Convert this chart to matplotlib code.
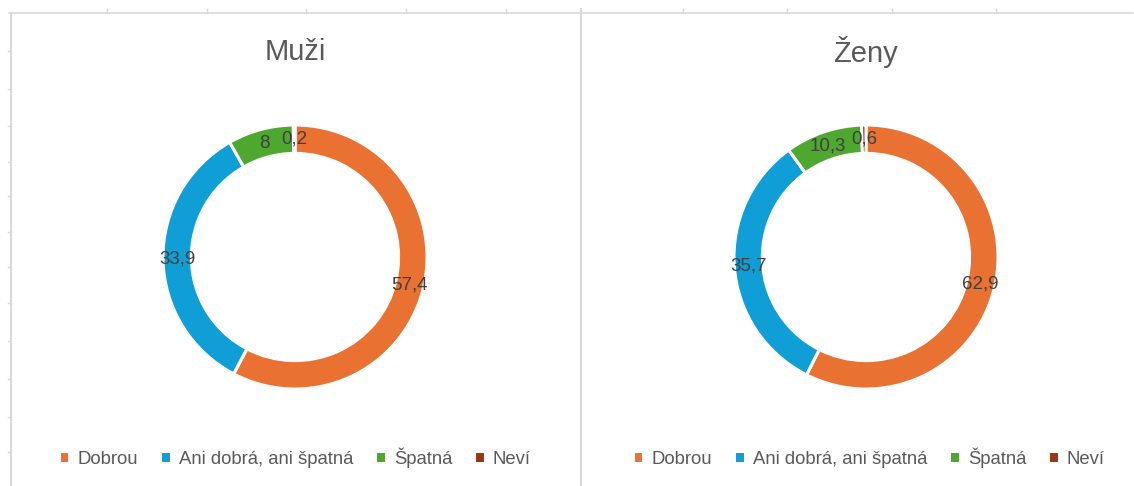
import matplotlib
matplotlib.use("Agg")
import matplotlib.pyplot as plt
from matplotlib.lines import Line2D
from matplotlib.patches import Patch
import numpy as np

plt.rcParams['font.family'] = ['Liberation Sans', 'DejaVu Sans']

categories = ["Dobrou", "Ani dobrá, ani špatná", "Špatná", "Neví"]
men_values = [57.4, 33.9, 8.0, 0.2]
women_values = [62.9, 35.7, 10.3, 0.6]
men_labels = ["57,4", "33,9", "8", "0,2"]
women_labels = ["62,9", "35,7", "10,3", "0,6"]
titles = ["Muži", "Ženy"]
colors = ["#E97132", "#0F9ED5", "#4EA72E", "#9A3A12"]

W, H = 1134, 486
fig = plt.figure(figsize=(W / 100, H / 100), dpi=100)
fig.patch.set_facecolor("white")

def fx(x):
    return x / W

def fy(y):
    return 1 - y / H

grid_c = "#D9D9D9"
# spreadsheet-like frame lines
fig.add_artist(Line2D([fx(9), fx(1133)], [fy(13.5), fy(13.5)], color=grid_c, lw=1.2))
fig.add_artist(Line2D([fx(11), fx(11)], [fy(13), fy(486)], color=grid_c, lw=1.5))
fig.add_artist(Line2D([fx(581), fx(581)], [fy(9), fy(486)], color=grid_c, lw=1.5))
for x in [107, 207, 306, 406, 506, 683, 787, 892, 996]:
    fig.add_artist(Line2D([fx(x), fx(x)], [fy(9), fy(13.5)], color=grid_c, lw=1))
for y in [51, 89, 126, 162, 196, 232, 267, 303, 341, 379, 417, 452]:
    fig.add_artist(Line2D([fx(8), fx(11)], [fy(y), fy(y)], color=grid_c, lw=1))

R = 132
centers = [(295, 257), (866, 257)]
datasets = [(men_values, men_labels), (women_values, women_labels)]
legend_cx = [296, 870]

for i, ((cx, cy), (vals, labs)) in enumerate(zip(centers, datasets)):
    ax = fig.add_axes([fx(cx - R), fy(cy + R), 2 * R / W, 2 * R / H])
    ax.set_aspect("equal")
    wedges, _ = ax.pie(vals, colors=colors, startangle=90, counterclock=False,
                       radius=1.0, wedgeprops=dict(width=0.215, edgecolor="white", linewidth=2.2))
    total = sum(vals)
    cum = 0
    for v, lab in zip(vals, labs):
        mid = cum + v / 2
        ang = np.deg2rad(90 - mid / total * 360)
        r = 1 - 0.215 / 2
        ax.text(r * np.cos(ang), r * np.sin(ang), lab, ha="center", va="center",
                fontsize=13.5, color="#404040")
        cum += v
    ax.set_xlim(-1, 1)
    ax.set_ylim(-1, 1)
    ax.axis("off")

    fig.text(fx(cx), fy(52), titles[i], ha="center", va="center", fontsize=21,
             color="#595959")

    handles = [Patch(facecolor=c, edgecolor="none") for c in colors]
    fig.legend(handles, categories, loc="center", bbox_to_anchor=(fx(legend_cx[i]), fy(458)),
               ncol=4, frameon=False, fontsize=13.3, labelcolor="#595959",
               handlelength=0.4, handleheight=0.4, handletextpad=0.5, columnspacing=1.3,
               borderpad=0, borderaxespad=0)

fig.savefig("out.png", dpi=100, facecolor="white")
